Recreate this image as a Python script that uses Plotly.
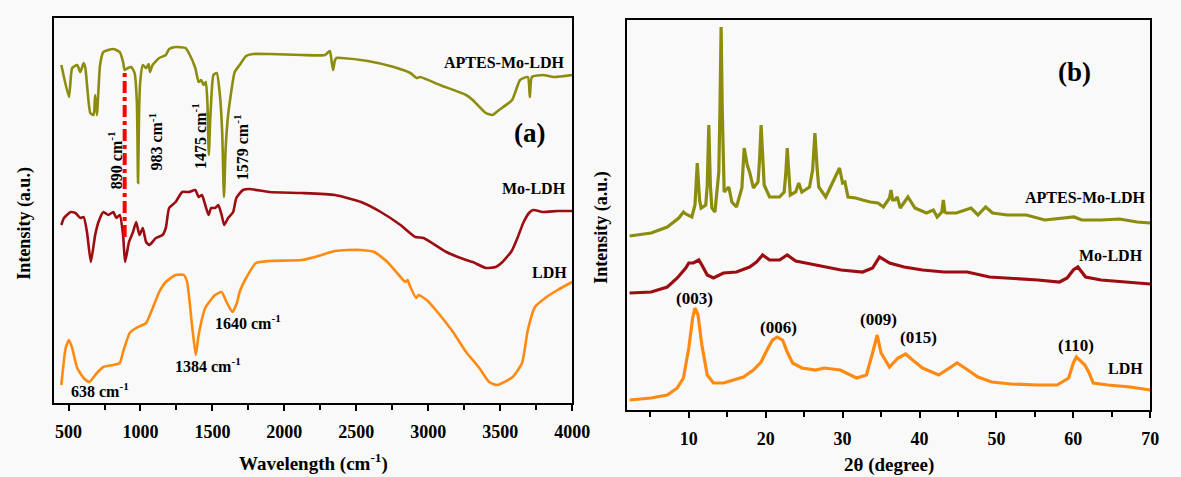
import plotly.graph_objects as go

# ---------------- DATA ----------------
# (a) FTIR spectra: wavenumber (cm-1) and intensity (a.u., offset curves)
ftir_wn_aptes = [450, 503, 525, 560, 582, 605, 617, 651, 674, 685, 697, 719, 742, 811, 856, 879, 890, 913, 936,
                 959, 975, 983, 990, 998, 1016, 1039, 1057, 1066, 1084, 1130, 1176, 1199, 1244, 1313, 1336, 1381,
                 1404, 1422, 1438, 1454, 1465, 1475, 1485, 1491, 1507, 1530, 1552, 1568, 1580, 1592, 1609, 1655,
                 1689, 1734, 1780, 1894, 2122, 2282, 2316, 2330, 2339, 2350, 2362, 2396, 2579, 2761, 2875, 2921,
                 2944, 3081, 3263, 3309, 3400, 3446, 3492, 3583, 3638, 3692, 3706, 3720, 3795, 3877, 4000]
ftir_aptes = [338, 306, 335, 338, 331, 340, 335, 290, 288, 308, 288, 338, 351, 354, 351, 341, 333, 335, 336,
              330, 300, 220, 290, 321, 338, 335, 339, 331, 338, 345, 348, 354, 356, 355, 350, 335,
              321, 323, 318, 321, 300, 248, 285, 301, 328, 330, 308, 270, 206, 255, 288, 331,
              338, 347, 349, 349, 348, 348, 352, 340, 333, 342, 345, 345, 342, 336, 330, 325,
              326, 318, 308, 303, 290, 288, 293, 303, 323, 326, 306, 326, 328, 326, 328]

ftir_wn_mo = [450, 468, 514, 548, 582, 605, 628, 655, 685, 708, 742, 776, 811, 833, 856, 879, 893, 920, 948, 970,
              993, 1016, 1039, 1062, 1107, 1153, 1176, 1199, 1244, 1290, 1336, 1381, 1404, 1427, 1450, 1473, 1491,
              1518, 1541, 1564, 1582, 1609, 1644, 1666, 1712, 1757, 1894, 2122, 2351, 2533, 2670, 2807, 2910, 2967,
              3126, 3263, 3309, 3400, 3469, 3508, 3580, 3620, 3660, 3700, 3730, 3795, 3900, 4000]
ftir_mo = [178, 185, 191, 190, 185, 186, 171, 141, 168, 181, 191, 188, 191, 185, 188, 168, 141, 161, 171, 181,
           168, 175, 161, 158, 165, 168, 175, 195, 201, 211, 211, 213, 206, 208, 198, 188, 195,
           195, 198, 188, 178, 185, 191, 205, 213, 214, 211, 210, 208, 201, 191, 178, 166, 165,
           151, 143, 141, 135, 136, 140, 152, 165, 180, 190, 193, 191, 192, 192]

ftir_wn_ldh = [450, 480, 503, 525, 560, 605, 645, 697, 742, 811, 856, 879, 925, 970, 1039, 1085, 1130, 1176, 1244,
               1301, 1324, 1358, 1384, 1404, 1450, 1518, 1564, 1598, 1638, 1670, 1689, 1734, 1803, 1894, 2122,
               2259, 2351, 2442, 2533, 2625, 2716, 2807, 2841, 2857, 2870, 2916, 2932, 2989, 3081, 3172, 3263,
               3355, 3423, 3481, 3587, 3652, 3692, 3742, 3822, 3899, 4000]
ftir_ldh = [18, 55, 63, 55, 35, 25, 21, 30, 36, 38, 40, 51, 70, 75, 80, 95, 111, 121, 128,
            128, 121, 78, 48, 68, 95, 108, 111, 101, 91, 100, 111, 125, 140, 142, 143,
            148, 152, 153, 153, 151, 141, 126, 121, 123, 118, 105, 108, 103, 88, 71, 51,
            35, 21, 18, 26, 40, 73, 96, 106, 113, 121]

# red dash-dot marker at 890 cm-1
ref_line_wn = [890, 890]
ref_line_int = [166, 333]

# (b) XRD patterns: 2-theta (degree) and intensity (a.u., offset curves)
xrd_2t_aptes = [2.3, 5.1, 7.2, 8.7, 9.3, 9.6, 10.4, 10.8, 11.1, 11.4, 11.6, 12.2, 12.4, 12.6, 12.8, 13.0, 13.4,
                13.9, 14.05, 14.2, 14.35, 14.6, 15.2, 15.6, 16.2, 16.9, 17.2, 17.6, 17.9, 18.4, 19.0, 19.2, 19.4,
                19.6, 19.8, 20.5, 21.8, 22.4, 22.6, 22.8, 23.0, 23.2, 23.9, 24.3, 24.7, 25.4, 25.7, 26.1, 26.4,
                26.7, 26.9, 27.8, 29.0, 29.6, 30.0, 30.3, 30.7, 31.7, 32.6, 33.6, 34.6, 35.3, 36.1, 36.3, 36.5,
                36.8, 37.1, 37.5, 38.5, 39.4, 40.9, 41.8, 42.3, 42.9, 43.1, 43.3, 43.5, 44.8, 46.7, 47.6, 48.6,
                49.5, 51.4, 53.9, 56.3, 58.7, 60.1, 61.1, 63.6, 66.0, 68.3, 70.0]
xrd_aptes = [174, 177, 183, 192, 198, 196, 193, 205, 247, 210, 202, 205, 225, 285, 225, 202, 198,
             238, 300, 383, 300, 218, 223, 208, 203, 222, 262, 245, 238, 222, 228, 250, 285,
             250, 225, 213, 213, 218, 235, 262, 235, 215, 218, 227, 218, 222, 223, 240, 277,
             240, 223, 213, 233, 242, 227, 228, 213, 212, 210, 208, 207, 203, 212, 220, 210,
             210, 213, 202, 213, 202, 197, 200, 193, 198, 210, 198, 197, 197, 202, 195, 203,
             197, 195, 195, 190, 192, 193, 190, 190, 191, 188, 187]

xrd_2t_mo = [2.3, 5.1, 7.2, 8.5, 9.6, 10.0, 10.6, 11.3, 11.7, 12.4, 13.2, 14.5, 16.2, 17.9, 18.8, 19.6, 20.5,
             21.8, 22.8, 23.9, 25.2, 26.5, 27.5, 29.8, 32.6, 33.9, 34.8, 36.1, 38.0, 40.4, 43.2, 46.2, 49.1,
             51.9, 55.4, 58.2, 59.2, 60.0, 60.6, 61.1, 61.6, 63.6, 66.4, 68.3, 70.0]
xrd_mo = [117, 118, 123, 132, 142, 147, 147, 150, 145, 135, 132, 137, 138, 143, 148, 155, 150,
          150, 155, 149, 147, 145, 143, 140, 138, 142, 153, 147, 143, 140, 138, 138, 133,
          132, 130, 128, 132, 140, 143, 138, 133, 130, 128, 127, 126]

xrd_2t_ldh = [2.3, 5.1, 7.2, 8.5, 9.3, 10.0, 10.5, 10.8, 11.2, 11.7, 12.4, 13.2, 14.5, 15.8, 17.1, 18.4, 19.4,
              20.3, 20.9, 21.5, 22.2, 22.8, 23.5, 24.7, 26.5, 27.6, 29.7, 31.8, 33.1, 33.9, 34.5, 35.0, 36.1,
              37.2, 38.2, 39.1, 40.4, 42.5, 43.8, 44.9, 45.9, 47.6, 49.4, 51.9, 55.3, 57.9, 59.4, 60.0, 60.4,
              61.0, 61.5, 62.0, 62.6, 64.5, 67.4, 70.0]
xrd_ldh = [10, 12, 15, 22, 32, 62, 92, 102, 95, 65, 35, 27, 27, 30, 33, 40, 48,
           62, 70, 73, 70, 58, 47, 42, 40, 42, 40, 32, 35, 57, 75, 57, 43,
           52, 56, 50, 42, 35, 42, 47, 42, 33, 28, 26, 25, 25, 32, 47, 53,
           49, 45, 38, 27, 25, 23, 20]

# ---------------- STYLE ----------------
W, H = 1181, 477
FONT = "Liberation Serif"
OLIVE = "#8c8c0f"
DARKRED = "#9c0d12"
ORANGE = "#ff8a12"
BG = "#f9f9f9"


def px(x):
    return x / W


def py(y):
    return 1 - y / H


fig = go.Figure()


def add_line(x, y, color, width, xa, ya, shape="linear"):
    fig.add_trace(go.Scatter(x=x, y=y, mode="lines",
                             line=dict(color=color, width=width, shape=shape, smoothing=0.5),
                             xaxis=xa, yaxis=ya, showlegend=False, hoverinfo="skip"))


add_line(ftir_wn_aptes, ftir_aptes, OLIVE, 2.6, "x", "y", "spline")
add_line(ftir_wn_mo, ftir_mo, DARKRED, 2.6, "x", "y", "spline")
add_line(ftir_wn_ldh, ftir_ldh, ORANGE, 2.6, "x", "y", "spline")
fig.add_trace(go.Scatter(x=ref_line_wn, y=ref_line_int, mode="lines",
                         line=dict(color="#ff0000", width=4, dash="dashdot"),
                         xaxis="x", yaxis="y", showlegend=False, hoverinfo="skip"))

add_line(xrd_2t_aptes, xrd_aptes, OLIVE, 3.2, "x2", "y2")
add_line(xrd_2t_mo, xrd_mo, DARKRED, 3.2, "x2", "y2")
add_line(xrd_2t_ldh, xrd_ldh, ORANGE, 3.2, "x2", "y2")

tickfont = dict(family=FONT, size=18, color="black", weight="bold")
common_x = dict(ticks="outside", ticklen=6, tickwidth=2, tickcolor="black", linecolor="black", linewidth=2,
                mirror=True, showgrid=False, zeroline=False, tickfont=tickfont, ticklabelstandoff=5)
common_y = dict(showticklabels=False, ticks="", linecolor="black", linewidth=2, mirror=True,
                showgrid=False, zeroline=False)

fig.update_layout(
    width=W, height=H, autosize=False,
    margin=dict(l=0, r=0, t=0, b=0),
    paper_bgcolor=BG, plot_bgcolor=BG,
    xaxis=dict(domain=[px(55), px(581)], range=[400, 4000], tick0=0, dtick=500, anchor="y",
               minor=dict(dtick=250, tick0=250, ticks="outside", ticklen=5, tickwidth=2, tickcolor="black"),
               **common_x),
    yaxis=dict(domain=[py(403), py(18)], range=[0, 385], anchor="x", **common_y),
    xaxis2=dict(domain=[px(637), px(1168)], range=[2, 70], tick0=0, dtick=10, anchor="y2",
                minor=dict(dtick=5, tick0=0, ticks="outside", ticklen=5, tickwidth=2, tickcolor="black"),
                **common_x),
    yaxis2=dict(domain=[py(410), py(20)], range=[0, 390], anchor="x2", **common_y),
)


def label(text, x, y, size=17, angle=0, xanchor="center"):
    fig.add_annotation(text=text, x=px(x), y=py(y), xref="paper", yref="paper", showarrow=False,
                       textangle=angle, xanchor=xanchor, yanchor="middle",
                       font=dict(family=FONT, size=size, color="black", weight="bold"))


# axis titles
label("Intensity (a.u.)", 24, 223, size=18, angle=-90)
label("Wavelength (cm<sup>-1</sup>)", 318, 462, size=19)
label("Intensity (a.u.)", 611, 227, size=18, angle=-90)
label("2θ (degree)", 903, 465, size=19)

# panel (a) labels
label("APTES-Mo-LDH", 576, 62, size=16, xanchor="right")
label("Mo-LDH", 577, 188, size=16, xanchor="right")
label("LDH", 578, 272, size=16, xanchor="right")
label("(a)", 538, 133, size=27)
label("890 cm<sup>-1</sup>", 117, 160, size=16, angle=-90)
label("983 cm<sup>-1</sup>", 158, 142, size=16, angle=-90)
label("1475 cm<sup>-1</sup>", 202, 136, size=16, angle=-90)
label("1579 cm<sup>-1</sup>", 245, 147, size=16, angle=-90)
label("638 cm<sup>-1</sup>", 102, 390, size=16)
label("1384 cm<sup>-1</sup>", 211, 365, size=16)
label("1640 cm<sup>-1</sup>", 252, 322, size=16)

# panel (b) labels
label("(b)", 1091, 72, size=27)
label("APTES-Mo-LDH", 1166, 197, size=16, xanchor="right")
label("Mo-LDH", 1163, 255, size=16, xanchor="right")
label("LDH", 1163, 368, size=16, xanchor="right")
label("(003)", 705, 298, size=17)
label("(006)", 791, 327, size=17)
label("(009)", 892, 319, size=17)
label("(015)", 933, 337, size=17)
label("(110)", 1093, 345, size=17)

fig.write_html("out.html", config={"displayModeBar": False},
               post_script="document.body.style.margin='0';document.body.style.overflow='hidden';")
